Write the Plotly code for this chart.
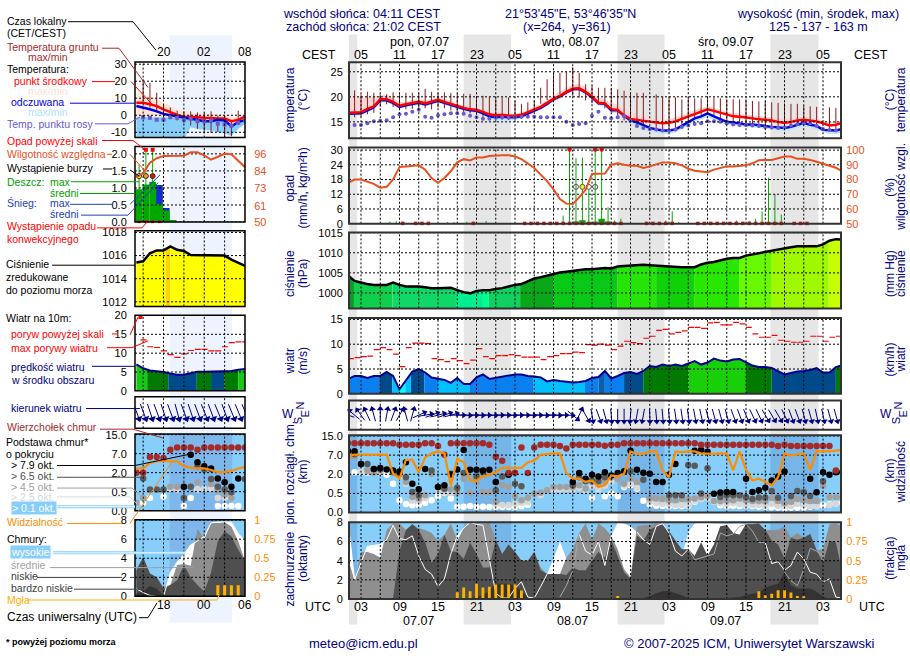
import math
import plotly.graph_objects as go

W, H = 910, 660
FONT = "Liberation Sans"
NAVY = "#000080"
RHC = "#e8501e"
ORANGE = "#ff8c00"
SKY = "#87cefa"

# hours counted from 00 UTC of 07.07 (main) and 06.07 (short range panels)
grid_main = list(range(3, 76, 3))
grid_short = [15, 18, 21, 24, 27]
night_start = [1.13, 19.0, 43.0, 66.8]
night_end = [2.4, 26.4, 50.3, 74.3]
short_night = (18.9, 28.1)

cest_ticks = ["05", "11", "17", "23", "05", "11", "17", "23", "05", "11", "17", "23", "05"]
utc_ticks = ["03", "09", "15", "21", "03", "09", "15", "21", "03", "09", "15", "21", "03"]
tick_hours = list(range(3, 76, 6))
short_hours = [18, 24, 30]
short_cest = ["20", "02", "08"]
short_utc = ["18", "00", "06"]

# ---- main panels, hourly from hour 1
temp_mid = [16.8, 16.8, 16.9, 17.6, 18.1, 19.5, 19.5, 19.0, 18.2, 18.5, 18.8, 19.0, 18.7, 19.0, 19.4, 19.0, 18.6, 18.1, 17.8, 17.5, 17.4, 17.0, 16.5, 16.3, 16.4, 16.2, 16.2, 16.4, 16.9, 17.5, 18.0, 18.8, 19.6, 20.2, 21.0, 21.6, 21.7, 21.0, 20.0, 18.8, 18.7, 17.5, 17.4, 16.3, 15.6, 15.4, 15.2, 15.0, 14.8, 14.7, 14.8, 15.1, 15.6, 16.1, 16.6, 17.0, 17.5, 17.2, 16.8, 16.4, 16.1, 16.0, 15.9, 15.7, 15.5, 15.4, 15.3, 15.0, 14.8, 15.0, 15.3, 15.4, 15.2, 15.1, 14.7, 14.3, 14.4, 14.8]
temp_hi = [20, 20, 20, 20, 20, 20.3, 20.4, 19.8, 18.9, 19, 19.3, 19.5, 19.3, 19.5, 20, 19.6, 19.2, 18.6, 18.2, 17.9, 17.8, 17.4, 16.9, 16.7, 16.7, 16.6, 16.6, 16.9, 17.3, 18, 18.5, 19.3, 20.2, 21, 21.8, 22.4, 22.6, 21.9, 20.8, 19.8, 19.5, 18.7, 18.4, 17.6, 16.9, 16.4, 16, 15.8, 15.5, 15.4, 15.6, 15.9, 16.3, 16.8, 17.4, 17.8, 18.1, 17.8, 17.3, 17, 16.7, 16.6, 16.5, 16.3, 16.1, 16, 15.9, 15.7, 15.5, 15.7, 15.9, 16, 15.8, 15.6, 15.3, 14.9, 14.9, 15.3]
appt = [16.6, 16.6, 16.7, 17.3, 17.9, 19.3, 19.3, 18.8, 18, 18.3, 18.6, 18.8, 18.5, 18.8, 19.2, 18.8, 18.4, 17.9, 17.6, 17.3, 17.2, 16.7, 16.1, 15.9, 16, 15.9, 15.9, 16.1, 16.7, 17.3, 17.8, 18.6, 19.5, 20.1, 20.9, 21.5, 21.6, 20.9, 19.9, 18.7, 18.6, 17.3, 17.3, 16.2, 15.3, 14.9, 14.3, 13.8, 13.5, 13.3, 13.3, 13.5, 14.2, 14.9, 15.7, 16.1, 16.7, 16.1, 15.6, 15, 14.9, 14.7, 14.5, 14.5, 14.3, 14.2, 14, 13.9, 13.8, 14, 14.4, 14.8, 14.4, 14.2, 13.4, 13.3, 13.3, 13.6]
appt_lo = [16.2, 16.2, 16.3, 16.8, 17.5, 18.8, 18.9, 18.3, 17.6, 17.9, 18.2, 18.4, 18.1, 18.4, 18.8, 18.4, 18, 17.5, 17.2, 16.9, 16.8, 16.3, 15.6, 15.2, 15.2, 15.2, 15.3, 15.6, 16.2, 16.9, 17.4, 18.2, 19, 19.6, 20.5, 21.1, 21.2, 20.4, 19.4, 18.2, 18, 16.8, 16.6, 15.5, 14.6, 14.1, 13.5, 13, 12.8, 12.6, 12.6, 12.9, 13.6, 14.3, 15, 15.5, 15.9, 15.4, 14.9, 14.4, 14.3, 14.1, 14, 13.9, 13.8, 13.6, 13.5, 13.3, 13.1, 13.4, 13.8, 14, 13.9, 13.5, 13, 12.6, 12.6, 12.9]
dew = [14.2, 14.4, 14.4, 14.7, 15.1, 15.2, 15.3, 15.9, 16.5, 16.6, 17, 17.4, 16, 15.8, 16.3, 16.5, 16.7, 16.7, 16.6, 16.2, 15.9, 15.6, 15.6, 15.8, 15.9, 15.8, 15.9, 16, 16, 16, 15.9, 15.9, 15.9, 15.9, 15, 14.4, 14.6, 14.7, 16.2, 17, 15.8, 15.7, 15.9, 16.1, 15.2, 14.2, 13.8, 13.6, 13.5, 13.3, 13.3, 13.5, 14, 14.3, 14.6, 14.7, 15.1, 15.1, 15, 14.7, 14.5, 14.4, 14.4, 14.3, 14.2, 14, 13.9, 13.8, 13.9, 14.3, 14.6, 14.7, 14.7, 14.2, 13.6, 13.4, 13.3, 13.0]
ground_hi = [None, 21.3, 20.5, 21, 20.8, 20.5, 20.5, 20.9, 20.5, 20.8, 20.8, 20.8, 21.6, 21, 20.8, 20.9, 20.8, 20.7, 20.6, 20.6, 20.2, 20.2, 20, 19.9, 19.9, 19.9, 19.2, 18.6, 18.9, 19.2, 21.8, 23.5, 24.8, 24.8, 25.1, 25.9, 24.8, 22.5, 22.2, 21.8, 21.8, 21.8, 21.5, 21.2, 20.8, 20.8, 20.8, None, 20.5, 20, 19.9, 19.9, 19.5, 19.9, 19.7, 19.7, 19.9, 19.9, 19.7, 19.5, 19.5, 19.5, 19.5, 19.2, 19.1, 19.1, 18.9, 18.8, 18.7, 18.6, 18.6, 18.2, 18.1, 18, None, 17.9, 17.8]
ground_lo = [None, 15.9, 16, 16.5, 16.8, 18, 18.5, 18, 17.4, 17.5, 17.6, 17.8, 17.7, 17.5, 17.9, 17.7, 17.3, 17, 16.9, 16.7, 16.4, 16, 15.6, 15.4, 15.4, 15.4, 15.4, 15.6, 16.2, 17.5, 18.6, 19.3, 19.9, 20.5, 20.5, 20.2, 19.8, 19.3, 18.7, 18.5, 17.7, 17, 16.2, 15.3, 14.9, 14.5, 14.2, None, 13.8, 13.6, 13.6, 13.8, 14.4, 15.2, 16, 16.4, 16.8, 16.2, 15.5, 15, 14.8, 14.6, 14.5, 14.4, 14.2, 14.1, 13.9, 13.7, 13.6, 14, 14.5, 14.6, 14.4, 14, None, 13.3, 13.2]

humidity = [77.8, 80, 80, 78.4, 77, 74.4, 75, 80, 88.4, 88.9, 89.3, 89.6, 86.7, 81, 77.8, 81, 85.6, 91.6, 93.8, 92.9, 95, 95, 96, 96.4, 96.4, 96.4, 95.6, 93.8, 91, 87.8, 83.3, 78.9, 73.3, 66.7, 63.6, 63.3, 67.8, 73, 83.8, 84, 84, 90, 91, 90, 89.3, 89.3, 87.8, 88.9, 90, 91.6, 91.6, 91, 89.6, 87.3, 86, 85.6, 85, 86.7, 88, 88.9, 88.9, 89.3, 89.6, 91, 93, 93.3, 93.3, 94.4, 95.6, 95.6, 94, 94, 93.3, 92, 90.7, 89.3, 88, 85.5]
rain_max_h = [7.5, 8.5, 9.5, 16.5, 17.5, 19.5, 20.5, 22.5, 34.5, 35.5, 36.5, 37.5, 38.5, 39.5, 40.5, 41.5, 42.5, 43.5, 50.5, 51.5, 52.5, 61.5, 62.5, 63.5, 64.5, 65.5, 66.5, 67.5, 68.5]
rain_max = [0.8, 1.0, 0.8, 0.7, 0.6, 0.8, 0.8, 1.1, 3.3, 31, 26.7, 27, 14, 31, 31, 6.7, 1.3, 2, 1.3, 5, 0.7, 1.3, 0.7, 1, 2, 5, 18.7, 12, 3.7]
rain_mean_h = [35.5, 36.5, 37.5, 38.5, 39.5, 40.5, 41.5, 42.5, 66.5, 67.5]
rain_mean = [0.1, 0.9, 1.4, 0.6, 0.8, 2.0, 0.9, 0.3, 0.4, 0.4]
over_h = [35.5, 39.5, 40.5]
conv_h = [9.5, 11.5, 12.5, 13.5, 20.5, 28.5, 29.5, 30.5, 31.5, 32.5, 33.5, 34.5, 35.5, 36.5, 37.5, 38.5, 39.5, 40.5, 41.5, 42.5, 43.5, 47.5, 48.5, 49.5, 50.5, 51.5, 55.5, 56.5, 57.5, 58.5, 59.5, 60.5, 61.5, 62.5, 63.5, 64.5, 65.5, 66.5, 67.5, 68.5, 70.5, 71.5, 72.5]
storm_h = [36.5, 37.5, 38.5, 39.5]
storm_fill = ["rgba(0,0,0,0)", "#ffee00", "rgba(0,0,0,0)", "rgba(0,0,0,0)"]

pressure = [1004.3, 1003, 1002.6, 1002.2, 1002, 1002, 1002, 1002.6, 1002, 1001.6, 1001.6, 1001.6, 1001.4, 1001.2, 1001.2, 1001.3, 1001.3, 1000.7, 1000.2, 999.9, 1000.5, 1000.7, 1000.7, 1001, 1001.2, 1001.6, 1002, 1002.2, 1003, 1003.6, 1003.9, 1004.3, 1004.7, 1005.1, 1005.3, 1005.5, 1005.7, 1005.9, 1005.9, 1006.1, 1006.2, 1006.1, 1006.6, 1006.7, 1006.8, 1007, 1007, 1006.9, 1006.8, 1006.6, 1006.5, 1006.5, 1006.4, 1006.4, 1006.4, 1007.1, 1007.5, 1007.7, 1008.1, 1008.5, 1008.7, 1008.7, 1009.3, 1009.6, 1009.9, 1010.2, 1010.6, 1010.8, 1011.1, 1011.4, 1011.6, 1011.6, 1011.6, 1011.6, 1012.1, 1013, 1013.4, 1013.3]
press_breaks = [1, 1.9, 7.9, 17.8, 22, 22.9, 27.8, 33, 43, 49, 55, 62, 67, 75.9, 78]
press_colors = ["#0a9a2a", "#0fcf4c", "#10d868", "#00f090", "#00ff90", "#0fd060", "#08a818", "#08c818", "#24e408", "#10d008", "#28e800", "#68f800", "#a0f800", "#c8ff00"]

wind = [3, 3.6, 3.6, 3.2, 3.6, 3.6, 4.4, 3.6, 0.9, 2.6, 4.5, 5, 4.3, 3.3, 3.1, 2.8, 2.2, 3.2, 2, 2, 3.3, 3.9, 3, 3.2, 3.4, 3.6, 3.9, 3.9, 3.6, 3.5, 3.3, 2.5, 2.8, 2.6, 2.4, 2.3, 2.4, 2.6, 3.2, 3.4, 4.6, 3.1, 3.6, 4.2, 4.4, 4, 4.6, 5.6, 5.4, 5.9, 5.6, 5.9, 5.6, 6.1, 6.6, 5.9, 6.3, 7.1, 6.7, 6.5, 6.9, 7, 6.3, 5.7, 5.4, 5.4, 5.2, 4.6, 3.9, 4.2, 4.5, 4.6, 4.8, 5.2, 4.3, 4.3, 5.4, 5.8]
wind_breaks = [1, 5.85, 7.9, 9, 9.9, 10.8, 12.9, 15, 19.9, 29.9, 37.9, 40, 41, 44, 47, 54, 63, 67, 77, 78]
wind_colors = ["#0a80f0", "#004a8a", "#00c0ff", "#00ffff", "#00c0ff", "#004a8a", "#0a80f0", "#00c0ff", "#0a80f0", "#00c0ff", "#0a80f0", "#0a60b0", "#0a80f0", "#004a8a", "#007a00", "#18d008", "#007a00", "#004a8a", "#007a00"]
gust = [7.1, 7.3, 7.5, 7.6, 8.9, 9.3, 8.9, 8, 5.5, 9.3, 10.2, 10.2, 10.1, 7.1, 6.9, 6.5, 7.1, 6.7, 6.1, 6.8, 9.1, 7.5, 7.1, 7.7, 7.7, 7.9, 7.7, 7.4, 7.4, 7.4, 6.9, 7.5, 7.7, 8.1, 8.1, 8.4, 8.3, 9.9, 9.8, 10, 9.8, 8.9, 9.6, 10.6, 10.3, 10.1, 11.2, 11.6, 12.8, 13, 12.1, 12.4, 12.7, 13.4, 13.4, 13.2, 14.3, 14.4, 13.9, 13.9, 14.4, 14.1, 13.4, 12.1, 11.4, 11.4, 11.8, 10.8, 10.6, 10.4, 10.4, 10.6, 11.6, 11.6, 10.6, 11.4, 11.6]
heading = [290, 310, 325, 335, 345, 0, 10, 20, 30, 345, 15, 65, 80, 70, 75, 70, 75, 90, 92, 90, 92, 90, 92, 90, 90, 92, 90, 90, 92, 90, 92, 90, 92, 90, 92, 130, 25, 150, 170, 160, 165, 175, 180, 180, 185, 190, 190, 178, 175, 175, 175, 172, 172, 172, 170, 168, 165, 165, 165, 165, 160, 160, 158, 155, 155, 150, 150, 150, 155, 160, 160, 165, 165, 168, 168, 165, 165, 168]

# cloud base, on the panel's tick scale: 0=0, 1=0.5, 2=2, 3=7, 4=15 km
vis_lev = [2.97, 3.02, 3.02, 3.02, 2.99, 2.99, 3.02, 2.03, 1.77, 2.75, 2.75, 2.11, 2.88, 3.09, 3.19, 3.09, 1.42, 2.8, 2.63, 1.68, 1.68, 1.89, 1.97, 2.11, 2.33, 2.33, 2.33, 2.33, 2.63, 2.71, 3.02, 3.06, 3.09, 3.09, 2.06, 1.77, 1.77, 1.6, 1.68, 1.34, 1.42, 1.94, 1.89, 2.03, 3.19, 3.06, 3.06, 3.19, 3.19, 2.2, 1.85, 3.19, 3.16, 3.19, 3.19, 3.09, 3.06, 3.06, 3.09, 3.09, 2.2, 3.19, 2.23, 1.68, 1.77, 1.6, 1.42, 1.85, 3.09, 2.97, 3.02, 3.09, 2.23, 3.19, 3.19, 3.19, 3.23, 3.28]
top_lev = [3.62, 3.62, 3.62, 3.62, 3.62, 3.62, 3.62, 3.62, 3.54, 3.54, 3.54, 3.54, 3.62, 3.62, 3.47, 3.02, 3.62, 3.62, 3.62, 3.62, 3.62, 3.62, 3.54, 2.92, 2.71, 2.06, 2.08, 3.40, 2.06, 3.40, 3.54, 3.54, 3.54, 3.47, 3.35, 3.54, 3.54, 3.54, 3.54, 3.54, 3.49, 3.54, 3.54, 3.62, 3.62, 3.62, 3.62, 3.62, 3.62, 3.62, 3.62, 3.62, 3.62, 3.62, 3.62, 3.54, 3.54, 3.54, 3.54, 3.54, 3.54, 3.54, 3.54, 3.54, 3.54, 3.54, 3.54, 3.47, 3.54, 3.47, 3.47, 3.47, 3.47, 3.47, 3.47, 3.47, 2.2]
b79_h = [1, 2, 3, 5, 6, 7, 8, 9, 10, 11, 12, 13, 15, 16, 17, 18, 19, 20, 21, 22, 23, 24, 26, 36, 37, 38, 39, 40, 41, 42, 43, 44, 45, 46, 47, 48, 49, 50, 51, 52, 55, 56, 57, 58, 59, 60, 61, 63, 64, 65, 66, 67, 68, 69, 73, 74, 75, 76, 77, 78]
b79_lev = [3.2, 3.2, 2.54, 2.28, 2.33, 2.25, 2.2, 2.15, 2.63, 1.51, 1.22, 2.28, 1.34, 1.43, 1.99, 2.25, 3.26, 2.23, 2.23, 2.2, 2.23, 1.6, 1.97, 1.6, 2.06, 1.77, 1.97, 1.88, 2.11, 1.94, 2.06, 2.16, 3.23, 2.23, 2.08, 2.03, 1.6, 1.6, 1.97, 2.54, 3.23, 3.26, 3.18, 0.99, 1.05, 1.08, 1.08, 1.77, 1.08, 1.17, 1.3, 1.68, 1.89, 2.14, 1.77, 1.06, 2.11, 1.97, 2.11, 2.11]
b65_h = [1, 2, 3, 4, 5, 6, 8, 9, 10, 11, 12, 14, 15, 16, 17, 18, 19, 21, 22, 24, 25, 26, 27, 28, 36, 37, 38, 39, 40, 41, 45, 47, 51, 52, 53, 54, 55, 56, 57, 59, 60, 61, 62, 63, 64, 65, 66, 67, 68, 70, 71, 72, 73, 75]
b65_lev = [3.2, 3.05, 2.54, 2.54, 2.28, 2.25, 2.11, 2.03, 1.85, 1.08, 0.91, 2.2, 1.34, 1.25, 2.03, 1.3, 2.06, 1.88, 2.11, 1.17, 1.89, 2.0, 1.51, 1.37, 1.43, 1.85, 1.63, 1.68, 1.65, 1.85, 2.16, 1.72, 0.91, 0.91, 0.91, 2.49, 2.45, 1.0, 2.32, 0.82, 0.91, 0.91, 0.91, 0.82, 0.71, 0.79, 0.79, 1.13, 0.77, 0.87, 1.13, 1.06, 0.87, 1.63]
b45_h = [1, 2, 4, 5, 10, 11, 12, 13, 14, 16, 17, 18, 19, 20, 21, 22, 23, 24, 25, 26, 27, 28, 29, 30, 31, 32, 33, 34, 35, 36, 37, 38, 39, 40, 41, 42, 43, 44, 45, 46, 48, 49, 50, 51, 52, 53, 54, 55, 56, 57, 58, 59, 60, 61, 62, 63, 64, 65, 66, 67, 68, 69, 70, 71, 72, 73, 74, 75, 76, 77, 78]
b45_lev = [2.9, 2.9, 2.2, 2.08, 1.6, 0.82, 0.74, 0.91, 2.03, 1.22, 1.22, 1.03, 1.77, 1.03, 1.6, 1.08, 1.05, 0.57, 1.43, 1.34, 0.87, 0.65, 0.77, 1.0, 1.03, 1.17, 1.34, 1.34, 1.34, 1.34, 1.43, 1.24, 1.6, 1.51, 1.6, 1.86, 1.77, 1.51, 1.77, 1.6, 0.74, 0.74, 0.71, 0.65, 0.65, 0.71, 0.71, 0.74, 0.8, 0.87, 0.6, 0.6, 0.63, 0.65, 0.74, 0.65, 0.6, 0.6, 0.6, 0.77, 0.6, 0.5, 0.57, 0.71, 0.65, 0.6, 0.6, 1.4, 0.82, 0.8, 0.8]
b25_h = [3, 4, 5, 6, 9, 10, 11, 12, 13, 15, 16, 17, 24, 25, 26, 27, 28, 29, 31, 33, 34, 35, 36, 37, 38, 39, 40, 41, 42, 44, 45, 46, 48, 49, 50, 51, 52, 53, 54, 55, 56, 57, 58, 59, 60, 61, 62, 63, 64, 65, 66, 67, 68, 69, 70, 71, 72, 73, 74, 76, 77]
b25_lev = [2.15, 2.08, 2.06, 2.06, 1.9, 1.5, 0.62, 0.6, 0.75, 1.2, 1.05, 1.05, 0.45, 0.4, 0.4, 0.45, 0.5, 0.55, 0.9, 1.2, 1.2, 1.25, 1.2, 1.3, 1.15, 1.4, 1.2, 1.4, 1.6, 1.4, 1.5, 1.3, 0.55, 0.5, 0.45, 0.45, 0.4, 0.4, 0.4, 0.6, 0.7, 0.75, 0.55, 0.5, 0.45, 0.5, 0.45, 0.4, 0.4, 0.4, 0.35, 0.45, 0.35, 0.35, 0.35, 0.45, 0.4, 0.35, 0.35, 0.4, 0.45]
b01_h = [2, 3, 4, 7, 8, 9, 10, 11, 12, 13, 14, 15, 16, 17, 18, 19, 20, 21, 22, 23, 24, 25, 26, 27, 28, 29, 39, 41, 42, 43, 44, 45, 46, 47, 48, 49, 50, 51, 52, 53, 54, 55, 56, 57, 58, 59, 60, 61, 62, 63, 64, 65, 66, 67, 68, 69, 70, 71, 72, 73, 74, 75, 76, 77, 78]
b01_lev = [2.1, 2.1, 2.08, 1.98, 1.5, 0.65, 0.45, 0.39, 0.4, 0.52, 0.65, 0.86, 1.03, 0.74, 0.31, 0.31, 0.34, 0.29, 0.31, 0.29, 0.29, 0.29, 0.29, 0.29, 0.33, 0.41, 0.77, 0.86, 1.0, 0.86, 1.34, 1.43, 1.25, 0.62, 0.43, 0.36, 0.34, 0.34, 0.34, 0.34, 0.36, 0.57, 0.77, 0.82, 0.62, 0.38, 0.34, 0.36, 0.34, 0.36, 0.34, 0.31, 0.31, 0.27, 0.26, 0.22, 0.26, 0.26, 0.26, 0.31, 0.33, 0.38, 0.43, 0.48, 0.51]

# cloud cover in oktas
cl_high = [8, 2, 3.8, 5.5, 5.6, 5.7, 6.2, 7.7, 6.3, 6.2, 6.6, 4.5, 3.1, 2.6, 1.3, 2.1, 4.7, 6.6, 7.4, 8, 7.8, 7.7, 4.2, 0.6, 0.1, 0.1, 1.1, 1.8, 0.2, 0.1, 1.3, 2.6, 4.2, 6, 4.2, 4.3, 6.8, 5, 6, 6, 3.5, 6.6, 8, 7.9, 7.6, 7, 6.2, 5.7, 7.6, 7.9, 6.9, 5, 4.5, 7, 7.9, 8, 8, 7.9, 7.9, 7.8, 7.9, 7.9, 7.8, 7.8, 7.9, 5.9, 3.7, 3.9, 3, 3.5, 4.9, 4.2, 2.8, 2.6, 1.8, 2.1, 0.2, 0.1]
cl_mid = [4.2, 1.9, 4.9, 4.9, 4.7, 4.3, 7.2, 7.9, 7.9, 7.2, 7.8, 7.4, 7.2, 6.9, 6.1, 6.7, 7.9, 6.1, 7.4, 8, 7.9, 7.8, 8, 6.2, 4.7, 5.7, 4.9, 4, 4, 4.9, 3.3, 2.6, 2.6, 2.6, 4.3, 5.2, 6.9, 7.9, 6.2, 7.9, 7.4, 6.6, 5.2, 3.1, 2.3, 7.6, 7.7, 7.7, 7.9, 7.7, 6.9, 5.9, 5, 5.2, 4.5, 5.9, 4.5, 5.7, 7.6, 7.7, 6.9, 6.7, 7.8, 7.8, 7.9, 7.2, 7.2, 7.2, 7.6, 6.4, 6.9, 6.4, 6.8, 5.1, 5.2, 7.8, 7.9, 7.6]
cl_low = [0.1, 0.1, 0.1, 0.1, 0.1, 0.1, 0.1, 0.1, 5, 7.2, 7.8, 7.2, 5.9, 3.8, 4.7, 6.7, 5, 4.9, 4.2, 5.9, 4.7, 3.3, 3.3, 6.2, 4.7, 5.7, 4.9, 4, 4, 4.9, 3, 2.6, 2.6, 2.6, 2.5, 3.3, 3, 3, 4, 4.9, 4.3, 6.1, 4.5, 2.8, 2.1, 6.6, 6.1, 7.2, 7.6, 7.8, 7.1, 6.1, 5.2, 5.2, 4.5, 5.9, 4.5, 5.7, 7.6, 7.7, 6.9, 6.7, 7.8, 7.8, 7.9, 7.2, 6.1, 5.7, 4.2, 6.4, 6.2, 6.4, 6.8, 5.1, 3.8, 6.1, 5.9, 2.8]
cl_vlow = [0, 0, 0, 0, 0, 0, 0, 0, 0, 0, 0, 0, 0, 0, 0, 0, 0, 0, 0, 0.1, 0.2, 0.4, 0.8, 1.6, 1.6, 1.6, 1.4, 0.8, 0.2, 0, 0, 0, 0, 0, 0, 0, 0, 0, 0, 0, 0, 0, 0, 0, 0, 0, 0.1, 0.3, 0.6, 0.8, 0.85, 0.6, 0.4, 0.1, 0, 0, 0, 0, 0, 0.1, 0.15, 0.2, 0.4, 0.55, 0.65, 1.2, 1.4, 1.6, 2.8, 1.4, 1.1, 1.1, 1.1, 0.75, 0.25, 0, 0, 0]
white_h = [1, 2, 3, 4, 5, 6, 7, 8, 9, 10, 11, 12, 13, 14, 15, 16, 17, 18, 19, 20, 21, 22, 23, 24, 25, 26, 27, 28, 29, 30, 31, 32, None, 37, 38, 39, 40, 41, 42, None, 46, 47, 48, 49, 50, 51, 52, 53, 54, None, 66, 67, 68, 69, 70, 71, 72, 73, 74, 75, 76, 77, 78]
white_okt = [8, 2, 3.8, 5.5, 5.6, 5.7, 6.2, 7.7, 6.3, 6.2, 6.6, 4.5, 3.1, 2.6, 1.3, 2.1, 4.7, 6.6, 7.4, 8, 7.8, 7.7, 4.2, 0.6, 0.1, 0.1, 1.1, 1.8, 0.2, 0.1, 1.3, 2.6, None, 6.8, 5, 4.6, 6, 3.5, 6.6, None, 7, 6.2, 5.7, 7.6, 7.9, 6.9, 5, 4.5, 5.2, None, 5.9, 3.7, 3.9, 3, 3.5, 4.9, 4.2, 2.8, 2.6, 1.8, 2.1, 0.2, 0.1]
grey_h = [34, 35, 36, 37, None, 54, 55, 56, 57, 58, 59, 60, 61, 62, 63, 64, 65, 66, None, 69, 70, 71, 72, 73, 74, 75]
grey_okt = [0.2, 1.4, 3, 6.8, None, 5.2, 4.1, 4.3, 4.5, 4.7, 6.9, 6.6, 6.8, 7.6, 7.8, 7.1, 5.9, 5.9, None, 2.8, 1.9, 1.4, 3.1, 5.3, 5, 4.5]
fog_h = [18, 19, 20, 21, 22, 23, 24, 25, 26, 27, 28, 43, 65, 66, 67, 68, 69, 70, 71, 72]
fog = [0.09, 0.15, 0.1, 0.2, 0.15, 0.16, 0.19, 0.19, 0.19, 0.19, 0.11, 0.04, 0.1, 0.05, 0.07, 0.115, 0.115, 0.085, 0.04, 0.035]

# ---- short range panels, hours 14..30 of 06.07
s_h = list(range(14, 31))
s_temp = [7.3, 7.3, 6.5, 5.4, 3.5, 1.7, 0.2, -0.8, -0.8, -1.2, -1.5, -1.9, -1.9, -1.9, -3.5, -2.7, -0.8]
s_appt = [5.4, 4.6, 3.5, 2.3, 0.8, 0, -0.8, -1.5, -2.1, -2.7, -3.5, -3.5, -2.7, -3.1, -6.5, -4, -2.7]
s_pink_hi = [13.3, 12.3, 10.8, 9.4, 7.5, 5.6, 3.7, 2.7, 1.7, 1.2, 0.8, 0.8, 0.8, 0.4, -1.1, -0.2, 0.4]
s_band_mid = [-1.2, -1.2, -1.2, -1.2, -1.2, -1.2, -1.6, -2, -2.5, -3, -3.5, -3.5, -3, -3.2, -6.5, -4, -3]
s_blue_lo = [-14, -14, -14, -14, -14, -14, -14, -14, -7, -8, -8.5, -9, -10, -10.5, -12, -8, -5]
s_ground_h = [15, 16, 17, 18, 19, 20, 21, 22, 23, 24, 25, 26, 27, 28, 29]
s_ground_hi = [21, 19, 13.3, 6.5, 4.6, 2.7, 2.3, 2.3, 1.7, 1.7, 2.3, -0.2, -0.2, -3.1, 2.7]
s_ground_lo = [8.5, 4.6, 2.7, -1.2, -2.1, -3.1, -4.6, -6, -7.9, -9.8, -10.4, -9.8, -12.7, -12.3, -5]
s_dew_h = [15, 16, 17, 18, 19, 20, 21, 22, 23, 24, 25, 26, 27, 28, 29, 30]
s_dew = [-1.2, -1.5, -2.7, -2.7, -1.2, -1.5, -2.7, -2.1, -3.5, -3.5, -3.1, -5, -5.4, -6.2, -4.6, -3.1]
s_humidity = [80, 83, 90, 93, 94.5, 94.7, 94.7, 94.7, 97, 97, 95, 92, 94, 96, 95.7, 91, 87]
s_rain_h = [14.4, 15.4, 16.4, 17.4, 18.4, 19.4]
s_rain = [0.96, 1.1, 1.18, 0.53, 0.34, 0.06]
s_snow_h = [17.4, 18.4]
s_snow = [1.09, 0.41]
s_max_h = [14.4, 15.4, 16.4]
s_max = [1.68, 2.12, 2.12]
s_over_h = [15.4, 16.4]
s_conv_h = [14.4, 15.4, 16.4, 17.4]
s_storm_fill = ["#ffee00", "#e8a020", "#e01010"]
s_press = [1015.4, 1015.5, 1016.2, 1016.45, 1016.45, 1016.8, 1016.5, 1016.4, 1016.05, 1016.05, 1016.05, 1016.05, 1016.05, 1016, 1015.65, 1015.4, 1015.1]
s_press_breaks = [14, 18.3, 19, 30]
s_press_colors = ["#ffff00", "#ffd400", "#ffff00"]
s_wind = [7, 6, 5.4, 5.3, 5, 4.6, 4.3, 4.3, 4.7, 5.1, 5.1, 5.1, 5.1, 5.1, 5.3, 5.6, 5.8]
s_wind_breaks = [14, 15.6, 18.7, 22.9, 25, 27, 29, 30]
s_wind_colors = ["#18c818", "#007a00", "#004a8a", "#007a00", "#004a8a", "#007a00", "#18c818"]
s_gust_h = [14.6, 15.6, 16.6, 17.6, 18.6, 19.6, 20.6, 21.6, 22.6, 23.6, 24.6, 25.6, 26.6, 27.6, 28.6, 29.6]
s_gust = [13.5, 11.7, 11.5, 10.6, 9.6, 8.9, 9.8, 10.7, 11, 11, 10.6, 10.6, 11.7, 12.8, 13, 13]
s_heading = [160, 160, 162, 160, 162, 160, 165, 160, 162, 160, 158, 160, 158, 160, 158, 158, 158]
s_top = [2.0, 2.0, 2.82, 2.82, 2.77, 3.2, 3.32, 3.32, 3.32, 3.2, 3.32, 3.32, 3.32, 3.32, 3.32, 3.32, 3.32]
s_vis = [2.22, 2.22, 2.51, 2.6, 2.6, 2.6, 2.6, 2.34, 2.26, 2.22, 2.22, 2.14, 2.03, 2.03, 2.09, 2.22, 2.29]
s_b79_h = [21, 22, 23, 24, 25, 26, 27, 28, 29]
s_b79 = [1.26, 2.94, 2.55, 2.34, 2.22, 1.69, 1.49, 1.26, 1.69]
s_b65_h = [15, 16, 17, 18, 21, 22, 23, 24, 25, 26, 27, 28, 30]
s_b65 = [1.69, 1.11, 1.11, 1.11, 0.67, 1.26, 2.34, 2.17, 1.66, 1.26, 1.11, 0.97, 1.66]
s_b45_h = [14, 15, 19, 20, 23, 25, 26, 27, 28]
s_b45 = [0.41, 0.67, 1.26, 1.26, 1.49, 1.4, 1.06, 0.85, 0.67]
s_b25_h = [14, 19, 20, 23, 24, 25, 26, 27, 28]
s_b25 = [0.41, 1.15, 1.1, 1.11, 1.15, 1.15, 0.67, 0.67, 0.67]
s_b01_h = [15, 16, 18, 21, 22, 23, 26, 27, 28, 29]
s_b01 = [0.41, 0.67, 0.75, 0.24, 0.67, 1.11, 0.24, 0.24, 0.24, 0.24]
s_high = [0.8, 0.4, 0.1, 0, 0, 2.5, 3.6, 4.4, 5.4, 5.8, 6.3, 7.7, 7.8, 7.8, 7.8, 6.6, 5.8]
s_mid = [2.9, 4.1, 2.4, 2, 1, 1.2, 3.3, 3.4, 3.2, 7.1, 6, 7.7, 7.7, 7.8, 7.3, 5.8, 3.7]
s_low = [2.7, 4.1, 2.4, 2, 0.8, 1.2, 1.7, 3.3, 2, 1.2, 0.5, 2.5, 5.8, 6.8, 6.3, 4.9, 3.7]
s_vlow = [0.3, 0.5, 1.1, 0.8, 0.1, 0, 0, 0, 0, 0, 0, 0, 0, 0, 0, 0, 0]
s_fog_h = [26, 27, 28, 29]
s_fog = [0.145, 0.145, 0.145, 0.145]


def fx(px):
    return px / W


def fy(px):
    return 1 - px / H


def hour_x(h):
    return 361 + (h - 3) * 6.417


def short_x(h):
    return 135 + (h - 13.8) * 110 / 16.2


fig = go.Figure()
layout = {}
shapes = []
notes = []
panels = {}


def panel(n, box, xr, yr, lt=None, rt=None, rcolor="black", y2r=None, frame="black", fw=1.5, pad=(5, 6)):
    x0, y0, x1, y1 = box
    layout[f"xaxis{n}"] = dict(domain=[fx(x0), fx(x1)], range=xr, anchor=f"y{n}", visible=False)
    ya = dict(domain=[fy(y1), fy(y0)], range=yr, anchor=f"x{n}", showgrid=False, zeroline=False,
              showline=False, ticks="outside", ticklen=pad[0], tickcolor="rgba(0,0,0,0)",
              tickfont=dict(family=FONT, size=11, color="black"))
    if lt:
        ya.update(tickmode="array", tickvals=lt[0], ticktext=lt[1])
    else:
        ya["showticklabels"] = False
        ya["ticks"] = ""
    layout[f"yaxis{n}"] = ya
    if rt:
        layout[f"yaxis{n + 20}"] = dict(
            overlaying=f"y{n}", side="right", anchor=f"x{n}", range=y2r or yr, showgrid=False,
            zeroline=False, showline=False, ticks="outside", ticklen=pad[1], tickcolor="rgba(0,0,0,0)",
            tickmode="array", tickvals=rt[0], ticktext=rt[1],
            tickfont=dict(family=FONT, size=11, color=rcolor))
    panels[n] = dict(xr=xr, yr=yr, lt=lt)
    shapes.append(dict(type="rect", xref="paper", yref="paper", x0=fx(x0), x1=fx(x1), y0=fy(y1), y1=fy(y0),
                       line=dict(color=frame, width=fw), layer="above"))


def ax(n, second=False):
    return dict(xaxis=f"x{n}", yaxis=f"y{n + 20}" if second else f"y{n}")


def line(n, x, y, color, width=2, dash=None, second=False):
    fig.add_trace(go.Scatter(x=x, y=y, mode="lines", line=dict(color=color, width=width, dash=dash),
                             connectgaps=False, hoverinfo="skip", **ax(n, second)))


def dots(n, x, y, color, size=6, symbol="circle", second=False, outline=None, clip=True):
    fig.add_trace(go.Scatter(x=x, y=y, mode="markers", cliponaxis=clip, hoverinfo="skip",
                             marker=dict(color=color, size=size, symbol=symbol,
                                         line=dict(color=outline or "rgba(0,0,0,0)", width=1 if outline else 0)),
                             **ax(n, second)))


def band(n, x, lo, hi, color):
    fig.add_trace(go.Scatter(x=list(x) + list(x)[::-1], y=list(hi) + list(lo)[::-1], fill="toself",
                             fillcolor=color, mode="none", hoverinfo="skip", **ax(n)))


def area(n, x, y, color):
    fig.add_trace(go.Scatter(x=list(x), y=y, fill="tozeroy", fillcolor=color, mode="none",
                             hoverinfo="skip", **ax(n)))


def bars(n, x, y, color, width, second=False):
    fig.add_trace(go.Bar(x=x, y=y, width=width, marker=dict(color=color, line=dict(width=0)),
                         hoverinfo="skip", **ax(n, second)))


def spans(n, x, lo, hi, color, width=1):
    xs, ys = [], []
    for h, a, b in zip(x, lo, hi):
        if a is None or b is None:
            continue
        xs += [h, h, None]
        ys += [a, b, None]
    line(n, xs, ys, color, width)


def steps(n, x, y, color, width=1.2, length=0.9):
    xs, ys = [], []
    for h, v in zip(x, y):
        xs += [h, h + length, None]
        ys += [v, v, None]
    line(n, xs, ys, color, width)


def runs(n, x, y, breaks, colors):
    # one filled piece per colour stripe, cut at the stripe edges
    def at(h):
        for i in range(len(x) - 1):
            if x[i] <= h <= x[i + 1]:
                return y[i] + (y[i + 1] - y[i]) * (h - x[i]) / (x[i + 1] - x[i])
        return y[-1]
    for a, b, c in zip(breaks[:-1], breaks[1:], colors):
        xs = [a] + [h for h in x if a < h < b] + [b]
        area(n, xs, [at(h) for h in xs], c)


def arrows(n, x, head, px_h, length=13, size=6):
    xs, ys, tx, ty = [], [], [], []
    for h, d in zip(x, head):
        dx = math.sin(math.radians(d)) * length / 2 / px_h
        dy = math.cos(math.radians(d)) * length / 2
        xs += [h - dx, h + dx, None]
        ys += [-dy, dy, None]
        tx.append(h + dx)
        ty.append(dy)
    fig.add_trace(go.Scatter(x=xs, y=ys, mode="lines", line=dict(color=NAVY, width=1), cliponaxis=False,
                             hoverinfo="skip", **ax(n)))
    fig.add_trace(go.Scatter(x=tx, y=ty, mode="markers", cliponaxis=False, hoverinfo="skip",
                             marker=dict(symbol="triangle-up", size=size, color=NAVY, angle=list(head),
                                         line=dict(width=0)), **ax(n)))


def grid(n, vx):
    p = panels[n]
    xs, ys = [], []
    for h in vx:
        xs += [h, h, None]
        ys += [p["yr"][0], p["yr"][1], None]
    if p["lt"]:
        for v in p["lt"][0]:
            xs += [p["xr"][0], p["xr"][1], None]
            ys += [v, v, None]
    line(n, xs, ys, "black", 1, "2px,2px")


def bg_rect(x0, x1, y0, y1, color):
    shapes.append(dict(type="rect", xref="paper", yref="paper", x0=fx(x0), x1=fx(x1), y0=fy(y1), y1=fy(y0),
                       fillcolor=color, line=dict(width=0), layer="below"))


def path(pts, color, width=1):
    d = "M " + " L ".join(f"{fx(x):.5f} {fy(y):.5f}" for x, y in pts)
    shapes.append(dict(type="path", path=d, xref="paper", yref="paper", line=dict(color=color, width=width),
                       layer="above"))


def label(txt, x, y, color="black", size=10.5, anchor="left", angle=0, bg=None):
    a = dict(text=txt, x=fx(x), y=fy(y), xref="paper", yref="paper", showarrow=False, xanchor=anchor,
             yanchor="middle", textangle=angle, borderpad=0, font=dict(family=FONT, size=size, color=color))
    if bg:
        a["bgcolor"] = bg
    notes.append(a)


# night stripes behind everything
for a, b in zip(night_start, night_end):
    bg_rect(hour_x(a), hour_x(b), 29, 630, "#e6e6e6")
bg_rect(short_x(short_night[0]), short_x(short_night[1]), 30, 628, "#eef4ff")

# sky behind the cloud panels
for y0, y1 in [(437.3, 516), (525.7, 604)]:
    bg_rect(349, 841, y0, y1, SKY)
    for a, b in zip(night_start, night_end):
        bg_rect(hour_x(a), hour_x(b), y0, y1, "#75b5e8")
for y0, y1 in [(436, 514), (523.3, 601.3)]:
    bg_rect(135, 245, y0, y1, SKY)
    bg_rect(short_x(short_night[0]), short_x(short_night[1]), y0, y1, "#7db7ec")

mx = [1.13, 77.8]
sx = [13.8, 30]
hm = list(range(1, len(temp_mid) + 1))
M, F, P = "#333333", 2, (3, 2)
lev_t = ([0, 1, 2, 3, 4], ["0.0", "0.5", "2.0", "7.0", "15.0"])
vis_t = ([0, 1, 2, 3, 4], ["0", "1", "5", "20", "100"])
okt_t = ([0, 2, 4, 6, 8], ["0", "2", "4", "6", "8"])
frac_t = ([0, 0.25, 0.5, 0.75, 1], ["0", "0.25", "0.5", "0.75", "1"])

# short range column
panel(1, (135, 57, 245, 134), sx, [-13.1, 31.3], ([-10, 0, 10, 20, 30], ["-10", "0", "10", "20", "30"]),
      ([-10, 0, 10, 20, 30], ["-10", "0", "10", "20", "30"]))
panel(2, (135, 143, 245, 220), sx, [0, 2.22], ([0, 0.5, 1, 1.5, 2], ["0.0", "0.5", "1.0", "1.5", "2.0"]),
      ([50, 61, 73, 84, 96], ["50", "61", "73", "84", "96"]), RHC, [50, 101])
panel(3, (135, 229, 245, 306), sx, [1011.6, 1018.14], ([1012, 1014, 1016, 1018], ["1012", "1014", "1016", "1018"]),
      ([1012, 1014, 1016, 1018], ["1012", "1014", "1016", "1018"]))
panel(4, (135, 315, 245, 392), sx, [0, 20.05], ([0, 5, 10, 15, 20], ["0", "5", "10", "15", "20"]),
      ([0, 5, 10, 15, 20], ["0", "18", "36", "54", "72"]))
panel(5, (135, 398, 245, 430), sx, [-17, 15])
panel(6, (135, 436, 245, 514), sx, [0, 4.03], lev_t, vis_t, ORANGE)
panel(7, (135, 523.3, 245, 601.3), sx, [0, 8.03], okt_t, frac_t, ORANGE, [0, 1.004])

# main column
panel(8, (349, 57.3, 841, 134.7), mx, [11.73, 26.9], ([15, 20, 25], ["15", "20", "25"]),
      ([15, 20, 25], ["15", "20", "25"]), frame=M, fw=F, pad=P)
panel(9, (349, 144, 841, 221.7), mx, [0, 31.1], ([0, 6, 12, 18, 24, 30], ["0", "6", "12", "18", "24", "30"]),
      ([50, 60, 70, 80, 90, 100], ["50", "60", "70", "80", "90", "100"]), RHC, [50, 101.8], frame=M, fw=F, pad=P)
panel(10, (349, 230.7, 841, 308), mx, [996.15, 1015.05], ([1000, 1005, 1010, 1015], ["1000", "1005", "1010", "1015"]),
      ([1000, 1005, 1010, 1015], ["750", "754", "758", "761"]), frame=M, fw=F, pad=P)
panel(11, (349, 317.7, 841, 395), mx, [0, 15.3], ([0, 5, 10, 15], ["0", "5", "10", "15"]),
      ([0, 5, 10, 15], ["0", "18", "36", "54"]), frame=M, fw=F, pad=P)
panel(12, (349, 401.7, 841, 431.7), mx, [-15, 15], frame=M, fw=F)
panel(13, (349, 437.3, 841, 516), mx, [0, 4.03], lev_t, vis_t, ORANGE, frame=M, fw=F, pad=P)
panel(14, (349, 525.7, 841, 604), mx, [0, 8.03], okt_t, frac_t, ORANGE, [0, 1.004], frame=M, fw=F, pad=P)

# temperature
band(1, s_h, s_band_mid, s_pink_hi, "#ffe4d8")
band(1, s_h, s_blue_lo, s_band_mid, SKY)
spans(1, s_ground_h, s_ground_lo, s_ground_hi, "#8b1a1a")
line(1, s_h, s_temp, "#ff0000", 2.5)
line(1, s_h, s_appt, "#0000e0", 2.5)
dots(1, s_dew_h, s_dew, "#6a5acd", 4, "square")
grid(1, grid_short)

band(8, hm, temp_mid, temp_hi, "#ffd5d5")
band(8, hm, appt_lo, appt, "#bfe6ff")
spans(8, hm, ground_lo, ground_hi, "#8b1a1a")
line(8, hm, appt, "#0000e0", 2.5)
line(8, hm, temp_mid, "#ff0000", 2.5)
dots(8, hm, dew, "#6a5acd", 4)
grid(8, grid_main)

# precipitation and humidity
bars(2, s_snow_h, s_snow, "#1030c8", 1)
bars(2, s_rain_h, s_rain, "#00a800", 1)
spans(2, s_max_h, [0] * len(s_max_h), s_max, "#00a800")
dots(2, s_conv_h, [0.01] * len(s_conv_h), "#e01010", 3, "square", clip=False)
dots(2, s_over_h, [2.12] * len(s_over_h), "#e01010", 4, "square")
grid(2, grid_short)
dots(2, s_max_h, [1.35] * len(s_max_h), s_storm_fill, 5, outline="#333333")
line(2, s_h, s_humidity, RHC, 2, second=True)

bars(9, rain_mean_h, rain_mean, "#00a800", 1)
spans(9, rain_max_h, [0] * len(rain_max_h), rain_max, "#00a800")
grid(9, grid_main)
dots(9, conv_h, [0.1] * len(conv_h), "#e01010", 3.5, "square", clip=False)
dots(9, over_h, [30.2] * len(over_h), "#e01010", 4.5, "circle")
dots(9, storm_h, [15] * len(storm_h), storm_fill, 5, outline="#555555")
line(9, hm, humidity, RHC, 2, second=True)

# pressure
runs(3, s_h, s_press, s_press_breaks, s_press_colors)
line(3, s_h, s_press, "black", 2.5)
grid(3, grid_short)
runs(10, hm, pressure, press_breaks, press_colors)
line(10, hm, pressure, "black", 2.5)
grid(10, grid_main)

# wind
runs(4, s_h, s_wind, s_wind_breaks, s_wind_colors)
line(4, s_h, s_wind, "#000090", 2)
steps(4, s_gust_h, s_gust, "#ff0000")
dots(4, [14.6], [19.6], "#ff0000", 4, "square")
grid(4, grid_short)
runs(11, hm, wind, wind_breaks, wind_colors)
line(11, hm, wind, "#000090", 2)
steps(11, hm[:len(gust)], gust, "#ff0000")
grid(11, grid_main)

grid(5, grid_short)
arrows(5, s_h, s_heading, 6.77, length=16, size=7)
grid(12, grid_main)
arrows(12, hm, heading, 6.417)

# cloud base
for n, h_set in ((6, ((s_b01_h, s_b01), (s_b25_h, s_b25), (s_b45_h, s_b45), (s_b65_h, s_b65), (s_b79_h, s_b79))),
                 (13, ((b01_h, b01_lev), (b25_h, b25_lev), (b45_h, b45_lev), (b65_h, b65_lev), (b79_h, b79_lev)))):
    for (hh, vv), col in zip(h_set, ("white", "#d8d8d8", "#a0a0a0", "#5a5a5a", "black")):
        dots(n, hh, vv, col, 6.5)
dots(6, s_h, s_top, "#a52a2a", 6.5)
dots(13, hm[:len(top_lev)], top_lev, "#a52a2a", 6.5)
grid(6, grid_short)
grid(13, grid_main)
line(6, s_h, s_vis, ORANGE, 2.2)
line(13, hm, vis_lev, ORANGE, 2.2)

# cloud cover
area(7, s_h, s_high, "white")
area(7, s_h, s_mid, "#8f8f8f")
area(7, s_h, s_low, "#4f4f4f")
area(7, s_h, s_vlow, "#333333")
line(7, s_h, s_high, "white", 1)
grid(7, grid_short)
bars(7, s_fog_h, s_fog, "#ffb000", 0.45, second=True)

area(14, hm, cl_high, "white")
area(14, hm, cl_mid, "#8f8f8f")
area(14, hm, cl_low, "#4f4f4f")
area(14, hm, cl_vlow, "#333333")
line(14, white_h, white_okt, "white", 1)
line(14, grey_h, grey_okt, "#a8a8a8", 1)
grid(14, grid_main)
bars(14, fog_h, fog, "#ffb000", 0.45, second=True)

# time labels
for h, a, b in zip(tick_hours, cest_ticks, utc_ticks):
    label(a, hour_x(h), 50, size=12.5, anchor="center")
    label(b, hour_x(h), 612, size=12.5, anchor="center")
for h, a, b in zip(short_hours, short_cest, short_utc):
    label(a, short_x(h), 47, size=12, anchor="center")
    label(b, short_x(h), 610, size=12, anchor="center")
for t, x in (("pon, 07.07", 419), ("wto, 08.07", 570), ("śro, 09.07", 726)):
    label(t, x, 37, size=12.5, anchor="center")
for t, x in (("07.07", 418), ("08.07", 572), ("09.07", 725)):
    label(t, x, 626, size=12.5, anchor="center")
for t, x, y in (("CEST", 319, 50), ("CEST", 871, 50), ("UTC", 318, 612), ("UTC", 872, 612)):
    label(t, x, y, size=12.5, anchor="center")

# header and footer
label("wschód słońca: 04:11 CEST", 361, 8, NAVY, 12.5, "center")
label("zachód słońca: 21:02 CEST", 363, 21, NAVY, 12.5, "center")
label("21°53'45\"E, 53°46'35\"N", 570, 8, NAVY, 12.5, "center")
label("(x=264,  y=361)", 567, 21, NAVY, 12.5, "center")
label("wysokość (min, środek, max)", 818, 8, NAVY, 12.5, "center")
label("125 - 137 - 163 m", 818, 21, NAVY, 12.5, "center")
label("meteo@icm.edu.pl", 363, 649, NAVY, 13, "center")
label("© 2007-2025 ICM, Uniwersytet Warszawski", 749, 649, NAVY, 13, "center")

# axis titles
for t, x, y in (("temperatura", 290, 96), ("(°C)", 303, 96), ("opad", 290, 186), ("(mm/h, kg/m²h)", 303, 186),
                ("ciśnienie", 290, 273), ("(hPa)", 303, 273), ("wiatr", 290, 362), ("(m/s)", 303, 362),
                ("pion. rozciągł. chm.", 290, 476), ("(km)", 303, 474), ("zachmurzenie", 290, 574),
                ("(oktanty)", 303, 563), ("temperatura", 901, 96), ("(°C)", 890, 96),
                ("wilgotność wzgl.", 901, 184), ("(%)", 890, 185), ("ciśnienie", 901, 273), ("(mm Hg)", 890, 273),
                ("wiatr", 901, 360), ("(km/h)", 890, 360), ("widzialność", 901, 475), ("(km)", 890, 473),
                ("mgła", 901, 562), ("(frakcja)", 890, 563)):
    label(t, x, y, NAVY, 12, "center", -90)
for x0 in (0, 598):
    label("W", 288 + x0, 416, NAVY, 12, "center")
    label("N", 300 + x0, 407, NAVY, 11, "center", -90)
    label("S", 298 + x0, 423, NAVY, 11, "center", -90)
    label("E", 305 + x0, 416, NAVY, 11, "center", -90)

# legend column
for t, x, y, c in (("Czas lokalny", 6, 15, "black"), ("(CET/CEST)", 6, 27, "black"),
                   ("Temperatura gruntu", 6, 42, "#a52a2a"), ("max/min", 27, 52, "#a52a2a"),
                   ("Temperatura:", 6, 64, "black"), ("punkt środkowy", 13, 76, "#ff0000"),
                   ("max/min", 27, 87, "#fde0d8"), ("odczuwana", 10, 98, "#0000e0"),
                   ("max/min", 27, 108, "#b0e0ff"), ("Temp. punktu rosy", 6, 120, "#6a5acd"),
                   ("Opad powyżej skali", 6, 137, "#ff0000"), ("Wilgotność względna", 6, 151, RHC),
                   ("Wystąpienie burzy", 6, 165, "black"), ("Deszcz:", 6, 179, "#00a000"), ("max", 49, 179, "#00a000"),
                   ("średni", 49, 190, "#00a000"), ("Śnieg:", 6, 201, "#2040c0"), ("max", 49, 201, "#2040c0"),
                   ("średni", 49, 212, "#2040c0"), ("Wystąpienie opadu", 6, 224, "#ff0000"),
                   ("konwekcyjnego", 6, 237, "#ff0000"), ("Ciśnienie", 5, 263, "black"),
                   ("zredukowane", 5, 276, "black"), ("do poziomu morza", 5, 289, "black"),
                   ("Wiatr na 10m:", 5, 318, "black"), ("poryw powyżej skali", 10, 334, "#ff0000"),
                   ("max porywy wiatru", 10, 348, "#ff0000"), ("prędkość wiatru", 10, 368, NAVY),
                   ("w środku obszaru", 10, 381, NAVY), ("kierunek wiatru", 10, 409, NAVY),
                   ("Wierzchołek chmur", 6, 429, "#a52a2a"), ("Podstawa chmur*", 5, 444, "black"),
                   ("o pokryciu", 5, 456, "black"), ("> 7.9 okt.", 10, 468, "black"), ("> 6.5 okt.", 10, 479, "#505050"),
                   ("> 4.5 okt.", 10, 490, "#a0a0a0"), ("> 2.5 okt.", 10, 500, "#d8d8d8"),
                   ("Widzialność", 6, 526, ORANGE), ("Chmury:", 6, 543, "black"), ("średnie", 10, 569, "#a0a0a0"),
                   ("niskie", 10, 581, "#404040"), ("bardzo niskie", 10, 593, "#404040"), ("Mgła", 6, 605, "#ffb000")):
    label(t, x, y, c)
label("> 0.1 okt.", 11, 511, "white", bg=SKY)
label("wysokie", 10, 556, "white", bg=SKY)
label("Czas uniwersalny (UTC)", 6, 622, size=12)
label("<b>* powyżej poziomu morza</b>", 5, 648, size=9)

# connector lines from the legend column to the panels
for pts, c in (([(68, 16), (133, 16), (156, 45)], "black"),
               ([(102, 43), (119, 43), (148, 83)], "#a52a2a"),
               ([(92, 77), (115, 77)], "#ff0000"), ([(131, 77), (152, 100)], "#ff0000"),
               ([(70, 99), (135, 99)], "#0000e0"),
               ([(95, 120), (128, 120), (140, 113)], "#6a5acd"),
               ([(102, 137), (133, 137), (146, 147)], "#ff0000"),
               ([(107, 151), (112, 151)], RHC), ([(130, 151), (145, 168)], RHC),
               ([(103, 166), (112, 166)], "black"), ([(130, 167), (139, 173)], "black"),
               ([(71, 179), (139, 179)], "#00a000"), ([(80, 191), (135, 191)], "#00a000"),
               ([(70, 202), (112, 202)], "#2040c0"), ([(130, 202), (160, 172)], "#2040c0"),
               ([(81, 213), (128, 213), (158, 180)], "#2040c0"),
               ([(97, 226), (142, 226), (147, 220)], "#ff0000"),
               ([(52, 264), (135, 264)], "black"),
               ([(112, 334), (118, 334)], "#ff0000"), ([(130, 335), (138, 317)], "#ff0000"),
               ([(107, 348), (132, 348), (148, 341)], "#ff0000"),
               ([(92, 367), (135, 367)], NAVY), ([(86, 410), (140, 410)], NAVY),
               ([(100, 431), (133, 431), (163, 440)], "#a52a2a"),
               ([(57, 468), (135, 468), (192, 456)], "black"),
               ([(57, 480), (143, 480)], "#505050"),
               ([(57, 491), (132, 491), (143, 501)], "#a0a0a0"),
               ([(57, 500), (130, 500), (137, 507)], "#d8d8d8"),
               ([(67, 527), (122, 527)], ORANGE), ([(130, 527), (173, 463)], ORANGE),
               ([(50, 572), (193, 572)], "#a0a0a0"),
               ([(37, 582), (122, 582)], "#404040"), ([(130, 582), (135, 582)], "#404040"),
               ([(74, 594), (143, 594)], "#404040"),
               ([(27, 605), (217, 605), (219, 600)], "#ffb000"),
               ([(139, 623), (148, 623), (157, 608)], "black")):
    path(pts, c)
path([(57, 510), (135, 510)], SKY, 3)
path([(57, 510), (135, 510)], "white", 1)
path([(53, 557), (185, 557)], SKY, 3)
path([(53, 557), (185, 557)], "white", 1)

fig.update_layout(width=W, height=H, margin=dict(l=0, r=0, t=0, b=0), showlegend=False, barmode="overlay",
                  paper_bgcolor="white", plot_bgcolor="rgba(0,0,0,0)", shapes=shapes, annotations=notes, **layout)
fig.write_html("out.html", config=dict(displayModeBar=False),
               post_script="document.body.style.margin='0';document.body.style.overflow='hidden';")
